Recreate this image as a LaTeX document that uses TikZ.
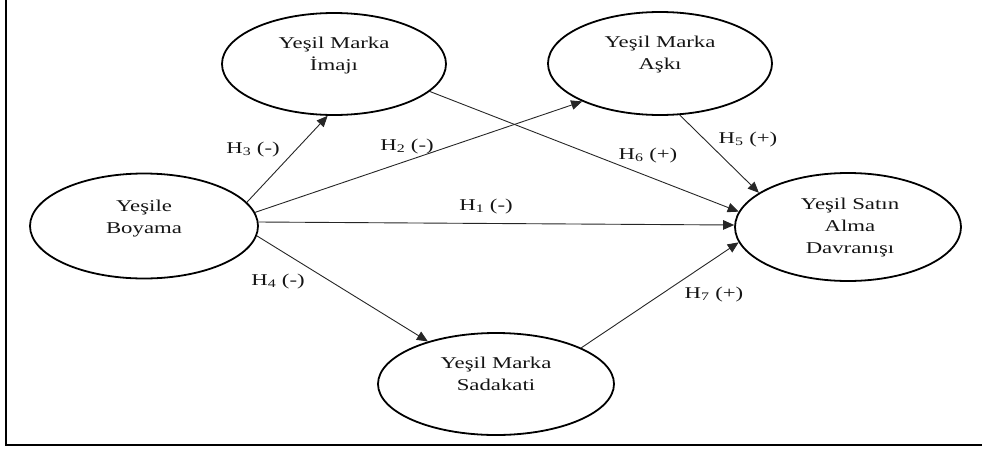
\documentclass[tikz,border=0pt]{standalone}
\usepackage{fontspec}
\setmainfont{Liberation Serif}[FakeStretch=1.38]
\usetikzlibrary{arrows.meta,shapes.geometric}
\begin{document}
\begin{tikzpicture}[x=1pt,y=-1pt,
  font=\fontsize{16.5}{22}\selectfont,
  oval/.style={draw=black,line width=1.8pt,ellipse,inner sep=0pt},
  txt/.style={align=center,inner sep=0pt,text=black!92},
  hyp/.style={inner sep=0pt,anchor=base,text=black!92},
  link/.style={draw=black!85,line width=0.9pt,-{Triangle[length=11pt,width=9.5pt]}},
  frame/.style={line width=2pt}]
\useasboundingbox (0,0) rectangle (982,450);
% frame (only left and bottom sides visible)
\coordinate (ftl) at (6,0);
\coordinate (fbl) at (6,445);
\coordinate (fbr) at (982,445);
\draw[frame] (ftl) -- (fbl) -- (fbr);
% ellipses
\node[oval,minimum width=228pt,minimum height=105pt] (boy) at (144,226) {};
\node[oval,minimum width=224pt,minimum height=102pt] (img) at (334,64) {};
\node[oval,minimum width=224pt,minimum height=103pt] (ask) at (660,63.5) {};
\node[oval,minimum width=226pt,minimum height=108pt] (sat) at (848,227) {};
\node[oval,minimum width=236pt,minimum height=102pt] (sad) at (496,384) {};
% texts
\node[txt] (tboy) at (144,219) {Yeşile\\Boyama};
\node[txt] (timg) at (334,55.3) {Yeşil Marka\\İmajı};
\node[txt] (task) at (660,55) {Yeşil Marka\\Aşkı};
\node[txt] (tsat) at (850,227.7) {Yeşil Satın\\Alma\\Davranışı};
\node[txt] (tsad) at (496,373.5) {Yeşil Marka\\Sadakati};
% connectors
\draw[link] (boy.13.4) -- (img.263.4);
\draw[link] (boy.7.7) -- (ask.206);
\draw[link] (boy.2.5) -- (sat.179.5);
\draw[link] (boy.-5.7) -- (sad.148);
\draw[link] (img.-16.5) -- (sat.172.3);
\draw[link] (ask.291) -- (sat.159.3);
\draw[link] (sad.23.3) -- (sat.188.3);
% hypothesis labels
\node[hyp] (h3) at (253,153) {H\textsubscript{3} (-)};
\node[hyp] (h2) at (407,150) {H\textsubscript{2} (-)};
\node[hyp] (h6) at (648,159) {H\textsubscript{6} (+)};
\node[hyp] (h5) at (748,143) {H\textsubscript{5} (+)};
\node[hyp] (h1) at (486,210) {H\textsubscript{1} (-)};
\node[hyp] (h4) at (278,285) {H\textsubscript{4} (-)};
\node[hyp] (h7) at (714,298) {H\textsubscript{7} (+)};
\end{tikzpicture}
\end{document}
